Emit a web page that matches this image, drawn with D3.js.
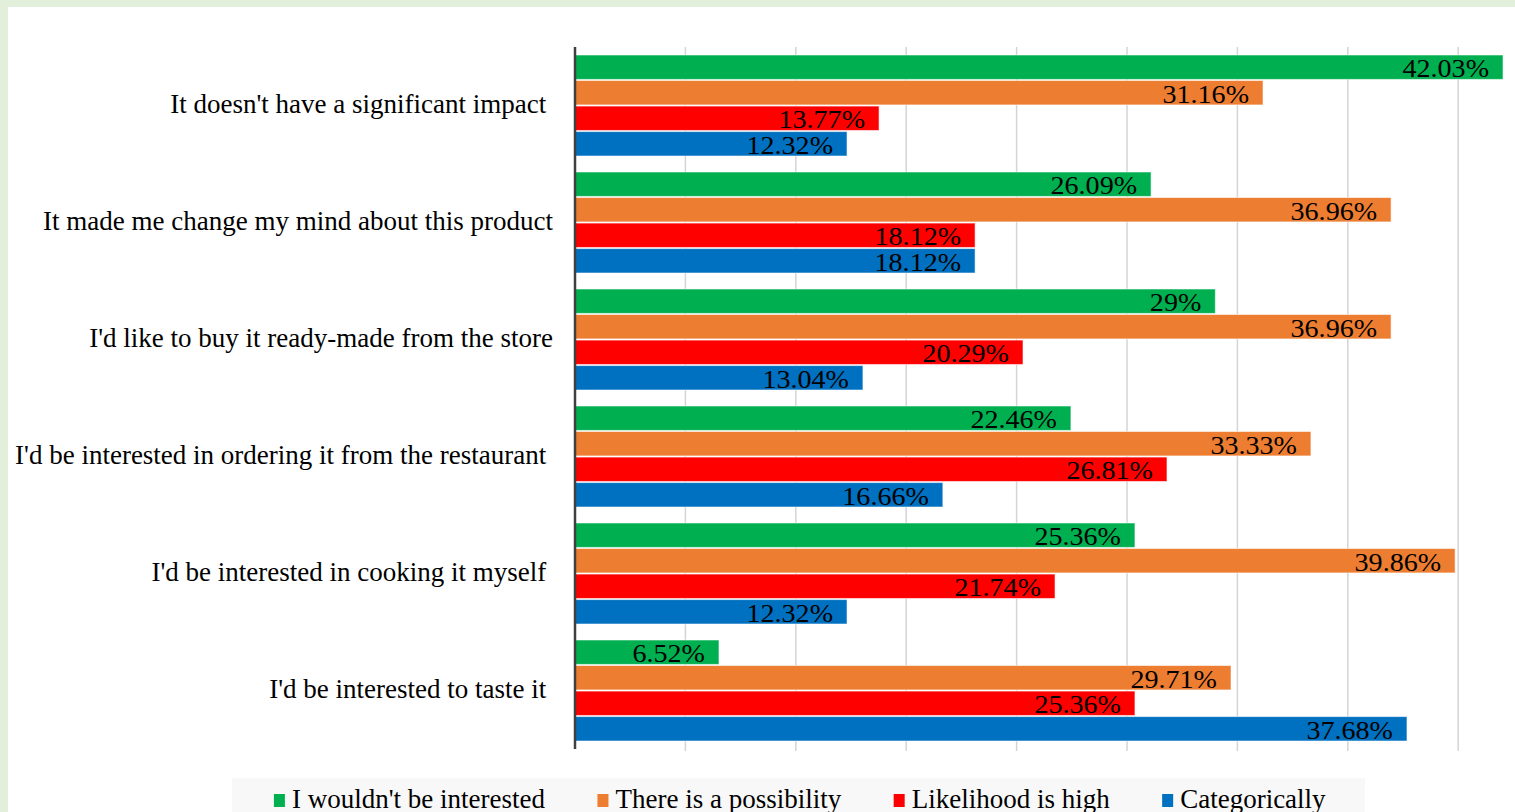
<!DOCTYPE html>
<html>
<head>
<meta charset="utf-8">
<script src="https://cdn.jsdelivr.net/npm/d3@7/dist/d3.min.js"></script>
<style>
  html, body { margin: 0; padding: 0; background: #e2efda; }
  svg { display: block; }
  text { font-family: "Liberation Serif", "Times New Roman", serif; fill: #000; }
</style>
</head>
<body>
<svg id="chart" width="1515" height="812"></svg>
<script>
// Survey answers, in percent of respondents
const categories = [
  "It doesn't have a significant impact ",
  "It made me change my mind about this product",
  "I'd like to buy it ready-made from the store",
  "I'd be interested in ordering it from the restaurant ",
  "I'd be interested in cooking it myself ",
  "I'd be interested to taste it "
];
const seriesNames = [
  "I wouldn't be interested",
  "There is a possibility",
  "Likelihood is high",
  "Categorically"
];
const notInterested = [42.03, 26.09, 29, 22.46, 25.36, 6.52];
const possibility   = [31.16, 36.96, 36.96, 33.33, 39.86, 29.71];
const likelihood    = [13.77, 18.12, 20.29, 26.81, 21.74, 25.36];
const categorically = [12.32, 18.12, 13.04, 16.66, 12.32, 37.68];
const gridTicks = [0, 5, 10, 15, 20, 25, 30, 35, 40];

const seriesValues = [notInterested, possibility, likelihood, categorically];
const colors = ["#00b050", "#ed7d31", "#ff0000", "#0070c0"];

const svg = d3.select("#chart");
const W = 1515, H = 812;

// page panel
svg.append("rect").attr("x", 8).attr("y", 7).attr("width", W - 8).attr("height", H - 7).attr("fill", "#ffffff");

const plotTop = 47, plotBottom = 749, plotLeft = 575;
const x = d3.scaleLinear().domain([0, 45]).range([plotLeft, plotLeft + 45 * 22.08]);
const y = d3.scaleBand().domain(categories).range([plotTop, plotBottom]).paddingInner(16 / 117).paddingOuter(8 / 117);
const yInner = d3.scaleBand().domain(seriesNames).range([0, y.bandwidth()]).paddingInner(0.045);

// vertical gridlines (with short tick stubs below the plot)
svg.append("g").selectAll("line").data(gridTicks.slice(1)).join("line")
  .attr("x1", d => x(d)).attr("x2", d => x(d))
  .attr("y1", plotTop).attr("y2", plotBottom + 2)
  .attr("stroke", "#d4d4d4").attr("stroke-width", 1.5);

// bars
const rows = categories.map((c, i) => ({
  cat: c,
  vals: seriesNames.map((s, j) => ({ series: s, value: seriesValues[j][i], color: colors[j] }))
}));

const groups = svg.append("g").selectAll("g").data(rows).join("g")
  .attr("transform", d => `translate(0,${y(d.cat)})`);

groups.selectAll("rect").data(d => d.vals).join("rect")
  .attr("x", x(0))
  .attr("y", d => yInner(d.series))
  .attr("width", d => x(d.value) - x(0))
  .attr("height", yInner.bandwidth())
  .attr("fill", d => d.color)
  .attr("stroke", "#ffffff").attr("stroke-opacity", 0.55).attr("stroke-width", 1);

// value labels inside the bar ends
groups.selectAll("text").data(d => d.vals).join("text")
  .attr("transform", d => `translate(${x(d.value) - 14},${yInner(d.series) + yInner.bandwidth() - 2}) scale(1.08,1)`)
  .attr("text-anchor", "end")
  .attr("font-size", 26)
  .text(d => d.value + "%");

// category axis line
svg.append("line")
  .attr("x1", plotLeft).attr("x2", plotLeft)
  .attr("y1", plotTop).attr("y2", plotBottom)
  .attr("stroke", "#404040").attr("stroke-width", 2.5);

// category labels
svg.append("g").selectAll("text").data(categories).join("text")
  .attr("x", 553)
  .attr("y", d => y(d) + y.bandwidth() / 2 + 7)
  .attr("text-anchor", "end")
  .attr("font-size", 27)
  .style("white-space", "pre")
  .text(d => d);

// legend
svg.append("rect").attr("x", 232).attr("y", 778).attr("width", 1133).attr("height", 40).attr("fill", "#f8f8f8");
const legend = svg.append("g");
const items = legend.selectAll("g").data(seriesNames).join("g");
items.append("rect").attr("x", 0).attr("y", 794).attr("width", 11).attr("height", 13)
  .attr("fill", (d, i) => colors[i]);
items.append("text").attr("x", 18).attr("y", 808).attr("font-size", 27).text(d => d);
const gap = 52;
const widths = items.nodes().map(n => n.getBBox().width);
const total = d3.sum(widths) + gap * (widths.length - 1);
let cursor = 800 - total / 2;
items.attr("transform", (d, i) => {
  const tx = cursor;
  cursor += widths[i] + gap;
  return `translate(${tx},0)`;
});
</script>
</body>
</html>
